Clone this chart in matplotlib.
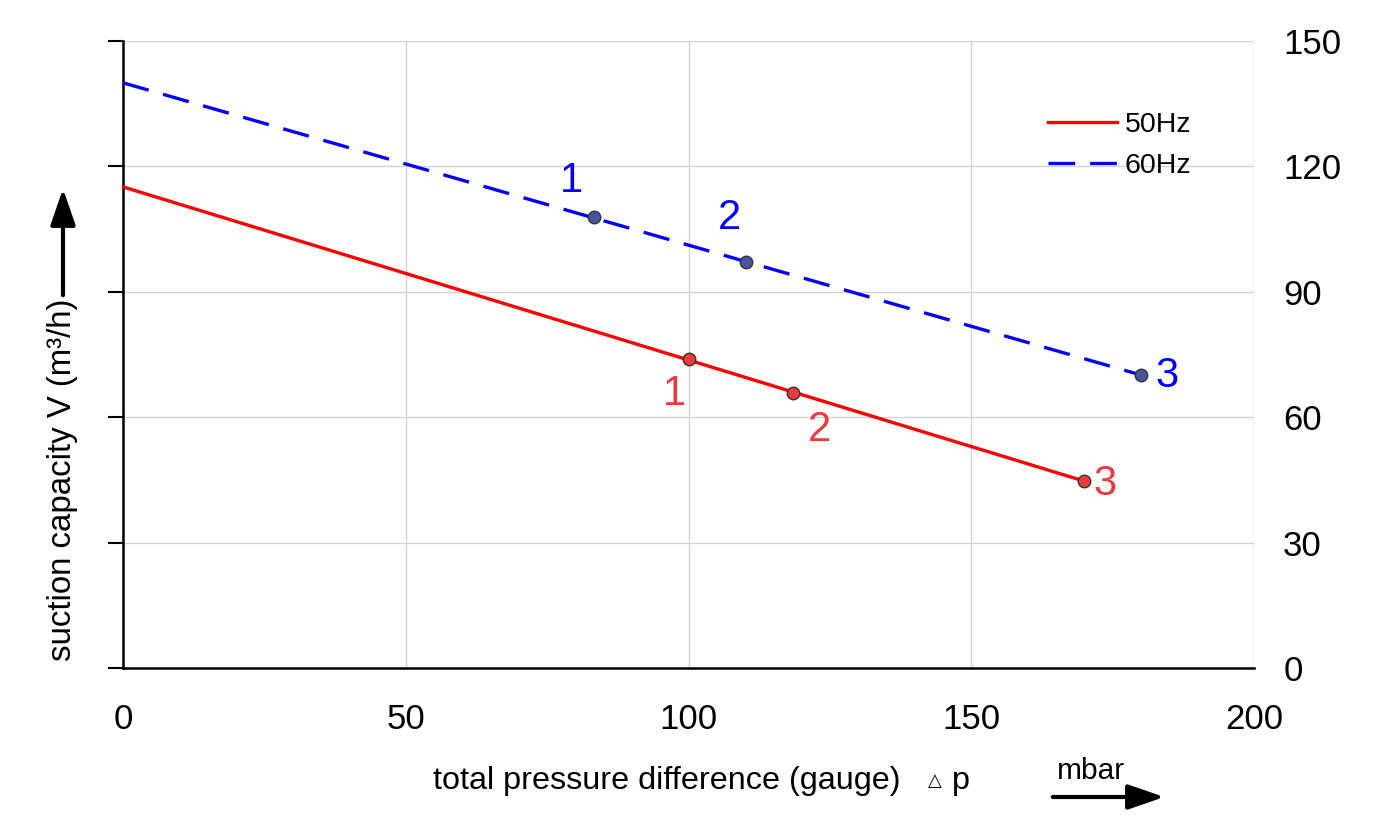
import matplotlib
matplotlib.use("Agg")
import matplotlib.pyplot as plt
import numpy as np

plt.rcParams['font.family'] = ['Liberation Sans', 'DejaVu Sans']

# 50Hz / 60Hz characteristic lines (x in mbar, y in m3/h)
line50_x = [0, 170]
line50_y = [115.1, 44.7]
line60_x = [0, 180]
line60_y = [140.0, 70.1]

# operating points
pts50_x = [100, 118.5, 170]
pts50_y = [73.9, 65.8, 44.7]
pts60_x = [83.3, 110.2, 180]
pts60_y = [107.9, 97.1, 70.1]
pt_labels = ["1", "2", "3"]

# label offsets (points) relative to the markers
off50 = [(-10, -25), (19, -27), (15, -2)]
off60 = [(-16, 26), (-12, 32), (19, -1)]

xticks = [0, 50, 100, 150, 200]
yticks = [0, 30, 60, 90, 120, 150]

fig = plt.figure(figsize=(13.77, 8.23), dpi=100)
ax = fig.add_axes([123/1377, 1-668/823, 1131/1377, 627/823])

ax.plot(line50_x, line50_y, color='#ff0000', lw=2.4, label='50Hz', zorder=3)
ax.plot(line60_x, line60_y, color='#0000ff', lw=2.4, dashes=(8, 4.5), label='60Hz', zorder=3)
ax.plot(pts50_x, pts50_y, 'o', ms=9, mfc='#e83a3f', mec='#333333', mew=1, zorder=4)
ax.plot(pts60_x, pts60_y, 'o', ms=9, mfc='#4a53a0', mec='#333333', mew=1, zorder=4)

for i in range(3):
    ax.annotate(pt_labels[i], (pts50_x[i], pts50_y[i]), xytext=off50[i], textcoords='offset points',
                ha='center', va='center', fontsize=30, color='#e83a3f')
    ax.annotate(pt_labels[i], (pts60_x[i], pts60_y[i]), xytext=off60[i], textcoords='offset points',
                ha='center', va='center', fontsize=30, color='#0000ff')

ax.set_xlim(0, 200)
ax.set_ylim(0, 150)
ax.set_xticks(xticks)
ax.set_yticks(yticks)
ax.grid(True, color='#d4d4d4', lw=1)
ax.set_axisbelow(True)

for s in ['top', 'right']:
    ax.spines[s].set_visible(False)
for s in ['left', 'bottom']:
    ax.spines[s].set_linewidth(1.8)
    ax.spines[s].set_color('black')

ax.tick_params(axis='y', left=True, right=False, labelleft=False, labelright=True,
               direction='out', length=11, width=1.5, labelsize=25, pad=10)
ax.tick_params(axis='x', bottom=False, labelsize=25, pad=22)

leg = ax.legend(loc='upper left', bbox_to_anchor=(0.805, 0.91), frameon=False, fontsize=20.5,
                handlelength=2.45, handletextpad=0.25, labelspacing=0.55, borderpad=0)

# axis titles with arrows
fig.text(63/1377, 1-480/823, 'suction capacity V (m³/h)', rotation=90, ha='center', va='center', fontsize=23.8)
fig.add_artist(matplotlib.patches.FancyArrowPatch((63/1377, 1-298/823), (63/1377, 1-186/823),
               transform=fig.transFigure, arrowstyle='-|>,head_length=13,head_width=4.5', mutation_scale=1.7,
               color='black', lw=3))

fig.text(433/1377, 1-781/823, 'total pressure difference (gauge)', ha='left', va='center', fontsize=23.3)
fig.text(928/1377, 1-781/823, '\u25b3', ha='left', va='center', fontsize=13)
fig.text(952/1377, 1-781/823, 'p', ha='left', va='center', fontsize=23.3)
fig.text(1091/1377, 1-771/823, 'mbar', ha='center', va='center', fontsize=21.5)
fig.add_artist(matplotlib.patches.FancyArrowPatch((1050/1377, 1-797/823), (1167/1377, 1-797/823),
               transform=fig.transFigure, arrowstyle='-|>,head_length=13,head_width=4.5', mutation_scale=1.7,
               color='black', lw=3))

fig.savefig('out.png', dpi=100)
